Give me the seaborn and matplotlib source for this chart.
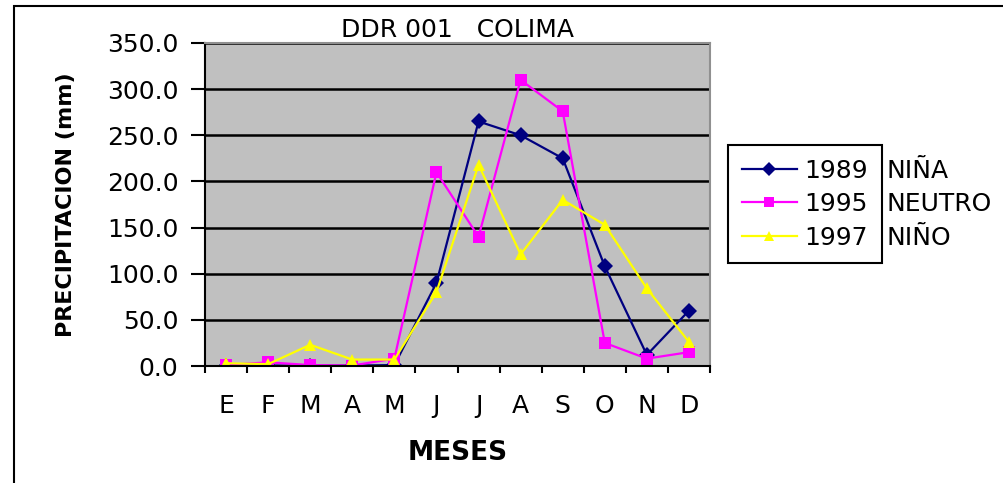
import matplotlib
matplotlib.use("Agg")
import matplotlib.pyplot as plt
from matplotlib.patches import Rectangle
import numpy as np
import pandas as pd
import seaborn as sns

# datos (precipitacion mensual, mm)
meses = ["E", "F", "M", "A", "M", "J", "J", "A", "S", "O", "N", "D"]
anios = ["1989", "1995", "1997"]
fases = ["NIÑA", "NEUTRO", "NIÑO"]
lluvia_1989 = [0.5, 0.5, 0.5, 0.5, 1.0, 90.0, 265.0, 250.0, 225.0, 108.0, 12.0, 60.0]
lluvia_1995 = [1.0, 4.0, 1.0, 0.5, 8.0, 210.0, 140.0, 310.0, 276.0, 25.0, 8.0, 15.0]
lluvia_1997 = [3.0, 2.0, 23.0, 7.0, 7.0, 80.0, 218.0, 121.0, 180.0, 153.0, 84.0, 26.0]
y_ticks = [0, 50, 100, 150, 200, 250, 300, 350]

colores = {"1989": "#000080", "1995": "#FF00FF", "1997": "#FFFF00"}
marcadores = {"1989": "D", "1995": "s", "1997": "^"}


def main() -> None:
    plt.rcParams["font.family"] = ["DejaVu Sans"]

    filas = []
    for anio, valores in zip(anios, [lluvia_1989, lluvia_1995, lluvia_1997]):
        for i, v in enumerate(valores):
            filas.append({"mes": i, "precip": v, "anio": anio})
    df = pd.DataFrame(filas)

    fig = plt.figure(figsize=(10.04, 4.83), dpi=100)
    ax = fig.add_axes([205 / 1004, 1 - 366 / 483, 505 / 1004, 323 / 483])
    ax.set_facecolor("#C0C0C0")

    sns.lineplot(data=df, x="mes", y="precip", hue="anio", style="anio",
                 palette=colores, markers=marcadores, dashes=False,
                 linewidth=1.6, markersize=8, markeredgewidth=0, ax=ax)

    ax.set_xlim(-0.5, 11.5)
    ax.set_ylim(0, 350)
    ax.set_yticks(y_ticks)
    ax.set_yticklabels([f"{v:.1f}" for v in y_ticks], fontsize=18)
    ax.set_xticks(range(len(meses)))
    ax.set_xticklabels(meses, fontsize=18)
    ax.set_xticks(np.arange(-0.5, len(meses), 1), minor=True)
    ax.tick_params(axis="x", which="major", length=0, pad=20)
    ax.tick_params(axis="x", which="minor", length=5, width=1.5, direction="out")
    ax.tick_params(axis="y", which="major", length=10, width=1.5, direction="out", pad=9)

    ax.grid(axis="y", color="black", linewidth=1.8)
    ax.set_axisbelow(True)
    for lado in ["left", "bottom"]:
        ax.spines[lado].set_color("black")
        ax.spines[lado].set_linewidth(1.5)
    for lado in ["top", "right"]:
        ax.spines[lado].set_color("#909090")
        ax.spines[lado].set_linewidth(1.5)

    ax.set_title("DDR 001   COLIMA", fontsize=18, pad=4)
    ax.set_xlabel("MESES", fontsize=19, fontweight="bold", labelpad=16)
    ax.set_ylabel("PRECIPITACION (mm)", fontsize=16, fontweight="bold", labelpad=22)

    handles, labels = ax.get_legend_handles_labels()
    leg = ax.legend(handles, labels, loc="upper left",
                    bbox_to_anchor=(728 / 1004, 1 - 145 / 483),
                    bbox_transform=fig.transFigure, borderaxespad=0,
                    fontsize=18, frameon=True, fancybox=False,
                    edgecolor="black", framealpha=1, facecolor="white",
                    handlelength=2.2, handletextpad=0.3, labelspacing=0.38,
                    borderpad=0.55, markerscale=0.85)
    leg.get_frame().set_linewidth(1.5)

    # texto de la fase ENSO junto a cada entrada (sale del recuadro, como el original)
    fig.canvas.draw()
    marco = leg.get_frame().get_window_extent()
    for txt, fase in zip(leg.get_texts(), fases):
        caja = txt.get_window_extent()
        fig.text((marco.x1 + 5) / fig.bbox.width,
                 (caja.y0 + caja.y1) / 2 / fig.bbox.height,
                 fase, fontsize=18, va="center", ha="left")

    # marco exterior del area de grafico (recortado a la derecha y abajo)
    fig.patches.append(Rectangle((14 / 1004, -0.2), 1.2, 1.2 - 6 / 483,
                                 transform=fig.transFigure, fill=False,
                                 edgecolor="black", linewidth=1.5))

    fig.savefig("out.png", dpi=100)
    plt.close(fig)


if __name__ == "__main__":
    main()
